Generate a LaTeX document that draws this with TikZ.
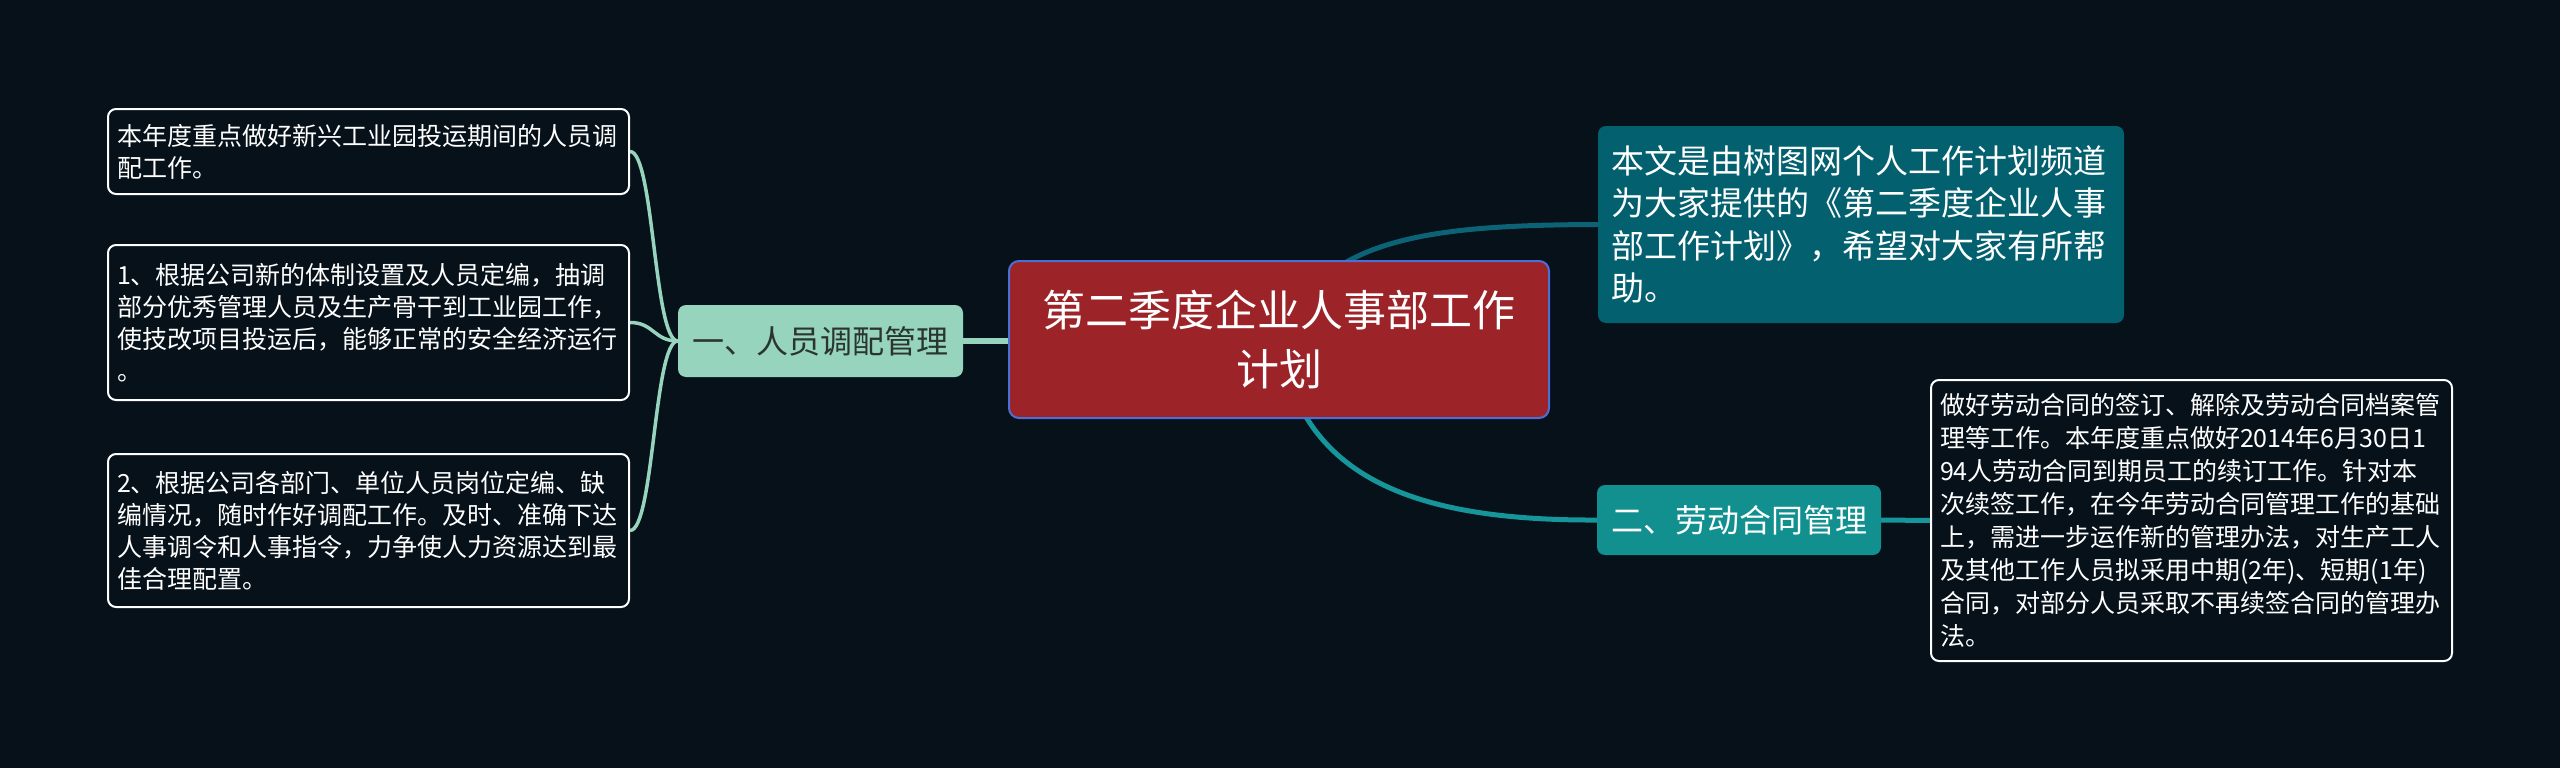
\documentclass[tikz,border=0pt]{standalone}
\usepackage{fontspec}
\setmainfont{Noto Sans CJK SC}
\usetikzlibrary{backgrounds}
\definecolor{bg}{HTML}{06111A}
\definecolor{rootred}{HTML}{9C2429}
\definecolor{rootblue}{HTML}{4C6FD6}
\definecolor{mint}{HTML}{96D4BE}
\definecolor{minttext}{HTML}{2A3531}
\definecolor{infoteal}{HTML}{03606F}
\definecolor{infoline}{HTML}{0C6375}
\definecolor{btwo}{HTML}{12908F}
\definecolor{btwoline}{HTML}{16959A}
\tikzset{
  leafbox/.style={draw=white, line width=2pt, rounded corners=8pt, fill=bg, text=white,
    minimum width=521pt, text width=503pt, inner xsep=9pt, inner ysep=0pt, align=left,
    font=\fontsize{25}{32}\selectfont},
  rootbox/.style={draw=rootblue, line width=2pt, rounded corners=10pt, fill=rootred, text=white,
    minimum width=540pt, minimum height=157pt, align=center, font=\fontsize{43}{59}\selectfont},
  branchone/.style={fill=mint, text=minttext, rounded corners=8pt, minimum width=285pt,
    minimum height=72pt, font=\fontsize{32}{40}\selectfont},
  branchtwo/.style={fill=btwo, text=white, rounded corners=8pt, minimum width=284pt,
    minimum height=70pt, font=\fontsize{32}{40}\selectfont},
  infobox/.style={fill=infoteal, text=white, rounded corners=8pt, minimum width=526pt,
    minimum height=197pt, text width=500pt, inner xsep=13pt, align=left,
    font=\fontsize{33}{42.5}\selectfont},
  mintthick/.style={draw=mint, line width=6pt},
  mintthin/.style={draw=mint, line width=3.5pt},
  infoconn/.style={draw=infoline, line width=5pt},
  btwoconn/.style={draw=btwoline, line width=5pt},
}
\begin{document}
\begin{tikzpicture}[x=1pt,y=-1pt]
\useasboundingbox (0,0) rectangle (2560,768);
\node[rootbox] (root) at (1279,339.5) {第二季度企业人事部工作\\计划};
\node[branchone] (b1) at (820.5,341) {一、人员调配管理};
\node[leafbox, minimum height=85pt] (l1) at (368.5,151.5) {本年度重点做好新兴工业园投运期间的人员调\\配工作。};
\node[leafbox, minimum height=155pt] (l2) at (368.5,322.5) {1、根据公司新的体制设置及人员定编，抽调\\部分优秀管理人员及生产骨干到工业园工作，\\使技改项目投运后，能够正常的安全经济运行\\。};
\node[leafbox, minimum height=153pt] (l3) at (368.5,530.5) {2、根据公司各部门、单位人员岗位定编、缺\\编情况，随时作好调配工作。及时、准确下达\\人事调令和人事指令，力争使人力资源达到最\\佳合理配置。};
\node[infobox] (info) at (1861,224.5) {本文是由树图网个人工作计划频道\\为大家提供的《第二季度企业人事\\部工作计划》，希望对大家有所帮\\助。};
\node[branchtwo] (b2) at (1739,520) {二、劳动合同管理};
\node[leafbox, minimum height=281pt, font=\fontsize{25}{33}\selectfont] (rleaf) at (2191.5,520.5) {做好劳动合同的签订、解除及劳动合同档案管\\理等工作。本年度重点做好2014年6月30日1\\94人劳动合同到期员工的续订工作。针对本\\次续签工作，在今年劳动合同管理工作的基础\\上，需进一步运作新的管理办法，对生产工人\\及其他工作人员拟采用中期(2年)、短期(1年)\\合同，对部分人员采取不再续签合同的管理办\\法。};
\begin{pgfonlayer}{background}
\fill[bg] (0,0) rectangle (2560,768);
\draw[mintthick] (b1.east) -- (b1.east -| root.west);
\draw[infoconn] (root.center) .. controls (1320,240) and (1420,225) .. (info.west);
\draw[btwoconn] (root.center) .. controls (1300,470) and (1400,521) .. (b2.west);
\draw[btwoconn] (b2.east) -- (rleaf.west);
\foreach \lf in {l1,l2,l3}{
  \draw[mintthin] (b1.west) .. controls +(-24,0) and +(24,0) .. (\lf.east);
}
\end{pgfonlayer}
\end{tikzpicture}
\end{document}
